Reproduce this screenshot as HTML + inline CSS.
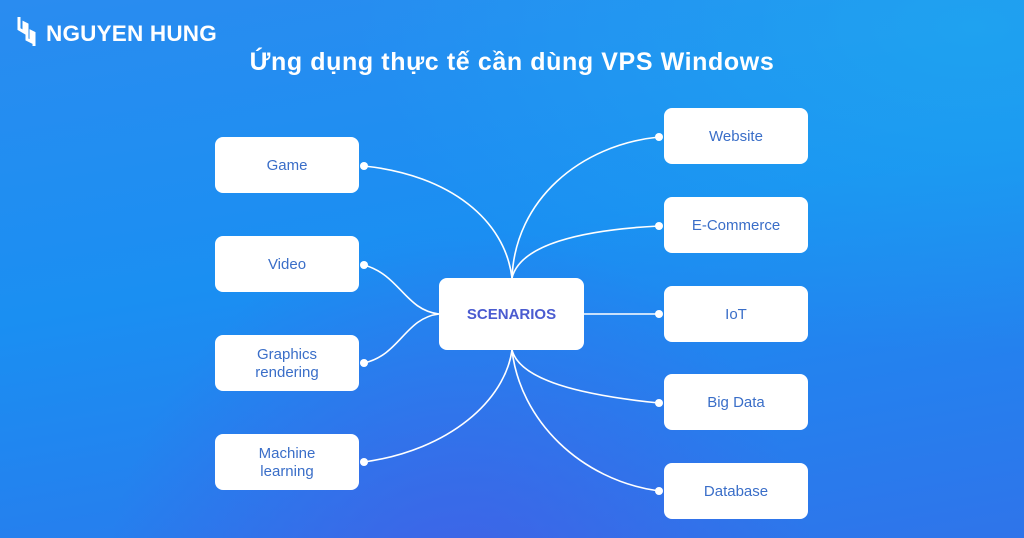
<!DOCTYPE html>
<html><head><meta charset="utf-8"><style>
body{margin:0;width:1024px;height:538px;overflow:hidden;font-family:"Liberation Sans",sans-serif;}
.bg{position:absolute;left:0;top:0;width:1024px;height:538px;background:linear-gradient(170deg,#2a8cf0 0%,#1a8ff2 45%,#2580ee 75%,#2f74ea 100%);}
.bg2{position:absolute;left:0;top:0;width:1024px;height:538px;background:radial-gradient(ellipse at 95% 5%,rgba(30,175,240,0.6),rgba(30,175,240,0) 45%),radial-gradient(ellipse at 45% 115%,rgba(80,80,225,0.6),rgba(80,80,225,0) 45%);}
.box{position:absolute;width:144px;height:56px;background:#fff;border-radius:8px;display:flex;align-items:center;justify-content:center;text-align:center;color:#3a6ec8;font-size:15px;line-height:18px;padding-top:2px;box-sizing:border-box;}
.l{left:215px}.r{left:664px}
.title{position:absolute;left:0;width:1024px;top:48px;text-align:center;color:#fff;font-weight:bold;font-size:25px;letter-spacing:0.6px;}
.logo{position:absolute;left:46px;top:21px;color:#fff;font-weight:bold;font-size:22.5px;letter-spacing:0.2px;}
</style></head><body>
<div class="bg"></div><div class="bg2"></div>
<svg style="position:absolute;left:0;top:0" width="1024" height="538">
<path d="M19 17 v12 l5 3 v-9 l3 1.5 v15 l4 2 v-10 l3 1.5 v13" stroke="#fff" stroke-width="3" fill="none"/>
<g stroke="#fff" stroke-width="1.6" fill="none">
<path d="M364 166 C450 175 505 220 512 278"/>
<path d="M364 265 C400 275 405 310 439 314"/>
<path d="M364 363 C400 355 405 318 439 314"/>
<path d="M364 462 C450 450 505 400 512 350"/>
<path d="M659 137 C580 145 515 200 512 278"/>
<path d="M659 226 C580 230 520 245 512 278"/>
<path d="M584 314 L659 314"/>
<path d="M659 403 C580 395 520 380 512 350"/>
<path d="M659 491 C580 480 520 420 512 350"/>
</g>
<g fill="#fff">
<circle cx="364" cy="166" r="4"/><circle cx="364" cy="265" r="4"/><circle cx="364" cy="363" r="4"/><circle cx="364" cy="462" r="4"/>
<circle cx="659" cy="137" r="4"/><circle cx="659" cy="226" r="4"/><circle cx="659" cy="314" r="4"/><circle cx="659" cy="403" r="4"/><circle cx="659" cy="491" r="4"/>
</g>
</svg>
<div class="logo">NGUYEN HUNG</div>
<div class="title">Ứng dụng thực tế cần dùng VPS Windows</div>
<div class="box l" style="top:137px">Game</div>
<div class="box l" style="top:236px">Video</div>
<div class="box l" style="top:335px">Graphics<br>rendering</div>
<div class="box l" style="top:434px">Machine<br>learning</div>
<div class="box" style="left:439px;top:278px;width:145px;height:72px;color:#4a5bd0;font-weight:bold;font-size:15px;">SCENARIOS</div>
<div class="box r" style="top:108px">Website</div>
<div class="box r" style="top:197px">E-Commerce</div>
<div class="box r" style="top:286px">IoT</div>
<div class="box r" style="top:374px">Big Data</div>
<div class="box r" style="top:463px">Database</div>
</body></html>
